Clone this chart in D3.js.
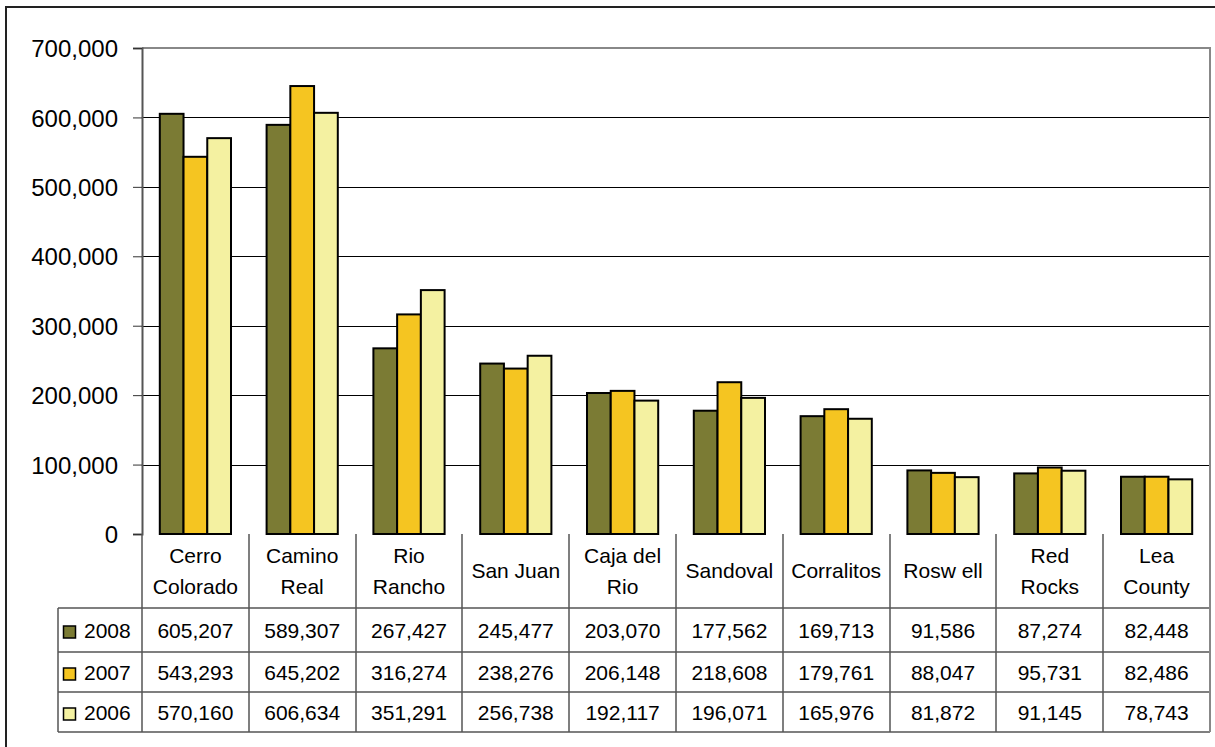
<!DOCTYPE html>
<html>
<head>
<meta charset="utf-8">
<script src="https://cdn.jsdelivr.net/npm/d3@7"></script>
<style>
  body { margin: 0; background: #fff; overflow: hidden; }
  svg { font-family: "Liberation Sans", Arial, sans-serif; display: block; }
</style>
</head>
<body>
<svg id="chart" width="1215" height="747"></svg>
<script>
// data
const categories = [
    ["Cerro", "Colorado"], ["Camino", "Real"], ["Rio", "Rancho"], ["San Juan"],
    ["Caja del", "Rio"], ["Sandoval"], ["Corralitos"], ["Rosw ell"],
    ["Red", "Rocks"], ["Lea", "County"]
];
const seriesNames = ["2008", "2007", "2006"];
const values2008 = [605207, 589307, 267427, 245477, 203070, 177562, 169713, 91586, 87274, 82448];
const values2007 = [543293, 645202, 316274, 238276, 206148, 218608, 179761, 88047, 95731, 82486];
const values2006 = [570160, 606634, 351291, 256738, 192117, 196071, 165976, 81872, 91145, 78743];
const yTicks = [0, 100000, 200000, 300000, 400000, 500000, 600000, 700000];
const colors = ["#7b7b34", "#f5c521", "#f4f1a1"];

const series = [values2008, values2007, values2006];

const svg = d3.select("#chart");
const plotLeft = 142, plotRight = 1210, plotTop = 48, plotBottom = 534;
const rowEdges = [534, 608, 652, 692, 732];
const legendLeft = 58;
const tableFont = "21px";

// outer frame (runs off the right and bottom edges)
svg.append("rect")
    .attr("x", 6).attr("y", 7)
    .attr("width", 1300).attr("height", 800)
    .attr("fill", "none")
    .attr("stroke", "#222")
    .attr("stroke-width", 2);

const x = d3.scaleBand()
    .domain(d3.range(categories.length))
    .range([plotLeft, plotRight]);

const y = d3.scaleLinear()
    .domain([0, 700000])
    .range([plotBottom, plotTop]);

// bar width: 150% gap width
const barW = x.bandwidth() / 4.5;
const gap = x.bandwidth() - barW * 3;

// gridlines
svg.append("g")
    .selectAll("line")
    .data(yTicks.filter(t => t > 0 && t < 700000))
    .join("line")
    .attr("x1", plotLeft).attr("x2", plotRight)
    .attr("y1", d => Math.round(y(d)) + 0.5).attr("y2", d => Math.round(y(d)) + 0.5)
    .attr("stroke", "#000")
    .attr("stroke-width", 1);

// plot area border top / right
svg.append("path")
    .attr("d", `M${plotLeft},${plotTop}H${plotRight}V${plotBottom}`)
    .attr("fill", "none")
    .attr("stroke", "#888")
    .attr("stroke-width", 2);

// y axis
const yAxis = d3.axisLeft(y)
    .tickValues(yTicks)
    .tickSize(9)
    .tickFormat(d3.format(","));

const yAxisG = svg.append("g")
    .attr("transform", `translate(${plotLeft},0)`)
    .call(yAxis);
yAxisG.select(".domain").attr("stroke", "#555").attr("stroke-width", 2);
yAxisG.selectAll(".tick line").attr("stroke", "#333");
yAxisG.selectAll(".tick text")
    .attr("x", -24)
    .attr("dy", "0.36em")
    .attr("fill", "#000")
    .style("font-size", "24px")
    .style("font-family", "'Liberation Sans', Arial, sans-serif");

// bars
series.forEach((vals, si) => {
    svg.append("g")
        .selectAll("rect")
        .data(vals)
        .join("rect")
        .attr("x", (d, i) => x(i) + gap / 2 + si * barW)
        .attr("y", d => y(d))
        .attr("width", barW)
        .attr("height", d => plotBottom - y(d))
        .attr("fill", colors[si])
        .attr("stroke", "#000")
        .attr("stroke-width", 2);
});

// data table
const table = svg.append("g").attr("stroke", "#555").attr("stroke-width", 1.5);

rowEdges.slice(1).forEach(ry => {
    table.append("line")
        .attr("x1", legendLeft).attr("x2", plotRight)
        .attr("y1", ry).attr("y2", ry);
});
d3.range(categories.length).forEach(i => {
    table.append("line")
        .attr("x1", Math.round(x(i))).attr("x2", Math.round(x(i)))
        .attr("y1", plotBottom).attr("y2", rowEdges[4]);
});
table.append("line")
    .attr("x1", plotRight).attr("x2", plotRight)
    .attr("y1", plotBottom).attr("y2", rowEdges[4])
    .attr("stroke", "#888").attr("stroke-width", 2);
table.append("line")
    .attr("x1", legendLeft).attr("x2", legendLeft)
    .attr("y1", rowEdges[1]).attr("y2", rowEdges[4]);

// category labels
categories.forEach((lines, i) => {
    const cx = x(i) + x.bandwidth() / 2;
    const midY = (rowEdges[0] + rowEdges[1]) / 2;
    const t = svg.append("text")
        .attr("text-anchor", "middle")
        .style("font-size", tableFont)
        .attr("fill", "#000");
    lines.forEach((ln, k) => {
        t.append("tspan")
            .attr("x", cx)
            .attr("y", midY + 7 + (k - (lines.length - 1) / 2) * 31)
            .text(ln);
    });
});

// value rows
const fmt = d3.format(",");
series.forEach((vals, si) => {
    const rowMid = (rowEdges[si + 1] + rowEdges[si + 2]) / 2;
    svg.append("g")
        .selectAll("text")
        .data(vals)
        .join("text")
        .attr("x", (d, i) => x(i) + x.bandwidth() / 2)
        .attr("y", rowMid + 7.5)
        .attr("text-anchor", "middle")
        .style("font-size", tableFont)
        .attr("fill", "#000")
        .text(d => fmt(d));

    // legend key + label
    svg.append("rect")
        .attr("x", 63.5).attr("y", rowMid - 4)
        .attr("width", 12).attr("height", 12)
        .attr("fill", colors[si])
        .attr("stroke", "#000")
        .attr("stroke-width", 1.5);
    svg.append("text")
        .attr("x", 84).attr("y", rowMid + 8)
        .style("font-size", tableFont)
        .attr("fill", "#000")
        .text(seriesNames[si]);
});
</script>
</body>
</html>
